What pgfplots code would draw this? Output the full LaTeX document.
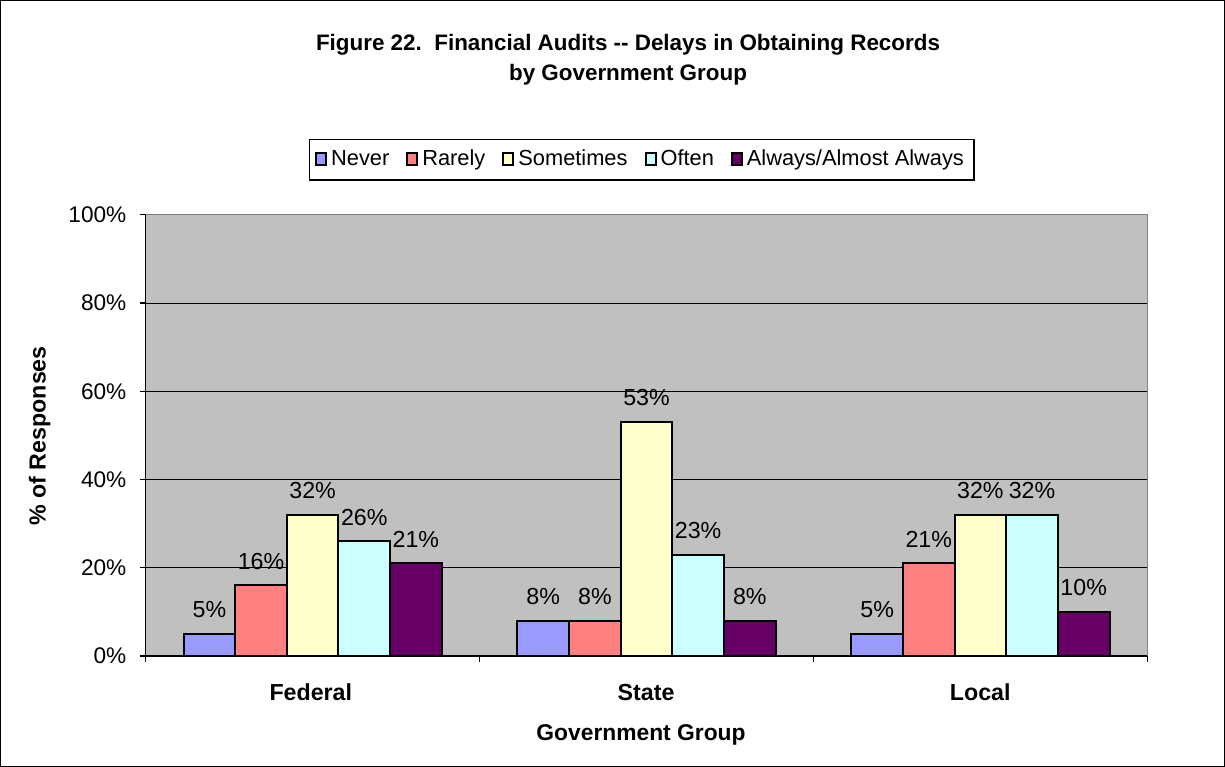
\documentclass[border=0pt]{standalone}
\usepackage{pgfplots}
\pgfplotsset{compat=1.18}
\usepackage{fontspec}
\setmainfont{Liberation Sans}
\definecolor{cNever}{HTML}{9999FF}
\definecolor{cRarely}{HTML}{FF8080}
\definecolor{cSome}{HTML}{FFFFCC}
\definecolor{cOften}{HTML}{CCFFFF}
\definecolor{cAlways}{HTML}{660066}
\definecolor{bg}{HTML}{C0C0C0}
\begin{document}
\fontsize{10.5}{12.6}\selectfont
\begin{tikzpicture}[x=0.5pt,y=-0.5pt]
\draw[black, line width=0.6pt] (1,1) rectangle (1224,766);
\node[font=\bfseries\fontsize{11.2}{13.4}\selectfont, align=center] at (628,60) {Figure 22.\ \ Financial Audits -{}- Delays in Obtaining Records\\[1.5pt]by Government Group};
\begin{axis}[
  at={(73pt,-328pt)}, anchor=south west,
  scale only axis, width=500.5pt, height=220.5pt,
  xmin=-0.5, xmax=2.5, ymin=0, ymax=100,
  ybar=0pt, bar width=25.8pt,
  axis background/.style={fill=bg},
  axis x line=bottom, axis y line=left,
  axis line style={-, black, line width=0.6pt},
  xtick={-0.5,0.5,1.5,2.5}, xticklabels={},
  ytick={0,20,40,60,80,100},
  yticklabel={\pgfmathprintnumber{\tick}\%},
  /pgf/number format/assume math mode=true,
  tick align=outside, major tick length=3pt,
  tick style={black, line width=0.6pt},
  ymajorgrids, grid style={black, line width=0.5pt},
  yticklabel style={font=\fontsize{11.3}{12.6}\selectfont, xshift=-3pt},
  nodes near coords={\pgfmathprintnumber{\pgfplotspointmeta}\%},
  nodes near coords style={font=\fontsize{11.6}{12.6}\selectfont, yshift=4pt, /pgf/number format/assume math mode=true},
  every axis plot/.append style={draw=black, line width=1pt},
  legend style={at={(0.495,1.125)}, anchor=center, legend columns=5, draw=black, line width=0.6pt, fill=white,
    font=\fontsize{10.9}{12.6}\selectfont, inner xsep=3pt, inner ysep=3.5pt,
    /tikz/every even column/.append style={column sep=6.5pt}},
  legend image code/.code={\draw[#1, line width=1pt] (0pt,-2.5pt) rectangle (5pt,3.5pt);},
  clip=false,
]
\addplot[fill=cNever] coordinates {(0,5) (1,8) (2,5)};
\addplot[fill=cRarely] coordinates {(0,16) (1,8) (2,21)};
\addplot[fill=cSome] coordinates {(0,32) (1,53) (2,32)};
\addplot[fill=cOften] coordinates {(0,26) (1,23) (2,32)};
\addplot[fill=cAlways] coordinates {(0,21) (1,8) (2,10)};
\legend{Never,Rarely,Sometimes,Often,Always/Almost Always}
\draw[gray, line width=0.6pt] (rel axis cs:0,1) -- (rel axis cs:1,1) -- (rel axis cs:1,0);
\end{axis}
\node[font=\bfseries\fontsize{11.6}{13.4}\selectfont] at (311,692) {Federal};
\node[font=\bfseries\fontsize{11.6}{13.4}\selectfont] at (646,692) {State};
\node[font=\bfseries\fontsize{11.6}{13.4}\selectfont] at (980,692) {Local};
\node[font=\bfseries\fontsize{11.4}{13.4}\selectfont] at (641,735) {Government Group};
\node[font=\bfseries\fontsize{11.6}{13.4}\selectfont, rotate=90] at (40,436) {\% of Responses};
\end{tikzpicture}
\end{document}
